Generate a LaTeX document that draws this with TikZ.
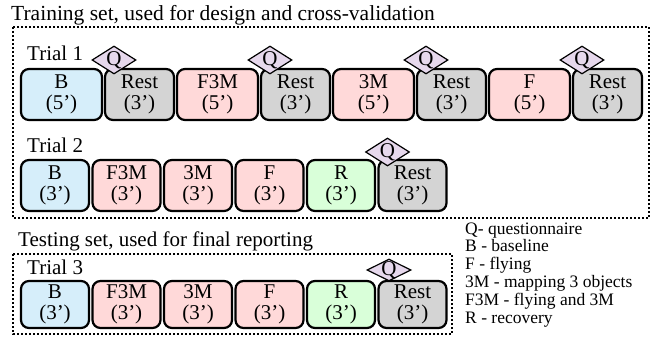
\documentclass[tikz,border=0pt]{standalone}
\usepackage{fontspec}
\setmainfont{Liberation Serif}
\usetikzlibrary{shapes.geometric}

\definecolor{baseblue}{RGB}{214,238,250}
\definecolor{taskpink}{RGB}{255,217,217}
\definecolor{restgray}{RGB}{212,212,212}
\definecolor{recgreen}{RGB}{217,255,217}
\definecolor{qviolet}{RGB}{230,216,236}

\tikzset{
  seg/.style={draw, line width=2.2pt, rounded corners=8pt, inner sep=0pt,
    align=center, font=\fontsize{21}{21}\selectfont},
  quest/.style={diamond, draw, line width=1.2pt, fill=qviolet,
    minimum width=44pt, minimum height=28pt, inner sep=0pt,
    label={[inner sep=0pt, font=\fontsize{21}{21}\selectfont]center:Q}},
  setbox/.style={line width=2pt, dash pattern=on 2pt off 2pt},
  title/.style={anchor=base west, inner sep=0pt, font=\fontsize{21}{21}\selectfont},
  keytxt/.style={anchor=base west, inner sep=0pt, font=\fontsize{17.5}{17.5}\selectfont}
}

\begin{document}
\begin{tikzpicture}[x=1pt, y=-1pt]
\useasboundingbox (0,0) rectangle (652,339);

% Training set
\node[title, font=\fontsize{21.5}{21.5}\selectfont] (train) at (11,21) {Training set, used for design and cross-validation};
\draw[setbox] (13,27) rectangle (649,218);

% Trial 1
\node[title] (trial1) at (27,61) {Trial 1};
\foreach \lbl/\col [count=\i from 0] in {B/baseblue, F3M/taskpink, 3M/taskpink, F/taskpink} {
  \node[seg, fill=\col, minimum width=81pt, minimum height=51pt] (a\i) at (61.5+156*\i,94.5) {\lbl\\(5')};
  \node[seg, fill=restgray, minimum width=69pt, minimum height=51pt] (ar\i) at (139.5+156*\i,94.5) {Rest\\(3')};
  \node[quest] (qa\i) at (114+156*\i,60) {};
}

% Trial 2
\node[title] (trial2) at (27,153) {Trial 2};
\foreach \lbl/\col [count=\i from 0] in {B/baseblue, F3M/taskpink, 3M/taskpink, F/taskpink, R/recgreen, Rest/restgray}
  \node[seg, fill=\col, minimum width=68pt, minimum height=51pt] (b\i) at (55+71.5*\i,185.5) {\lbl\\(3')};
\node[quest] (qb) at (387.5,152) {};

% Testing set
\node[title] (test) at (18,246) {Testing set, used for final reporting};
\draw[setbox] (13,254) rectangle (452,334);

% Trial 3
\node[title] (trial3) at (27,274) {Trial 3};
\foreach \lbl/\col [count=\i from 0] in {B/baseblue, F3M/taskpink, 3M/taskpink, F/taskpink, R/recgreen, Rest/restgray}
  \node[seg, fill=\col, minimum width=68pt, minimum height=47pt] (c\i) at (55+71.5*\i,304.5) {\lbl\\(3')};
\node[quest, minimum height=22pt] (qc) at (389,270) {};

% Legend
\foreach \txt [count=\i from 0] in {Q- questionnaire, B - baseline, F - flying,
    3M - mapping 3 objects, F3M - flying and 3M, R - recovery}
  \node[keytxt] (key\i) at (465,234+17.8*\i) {\txt};

\end{tikzpicture}
\end{document}
